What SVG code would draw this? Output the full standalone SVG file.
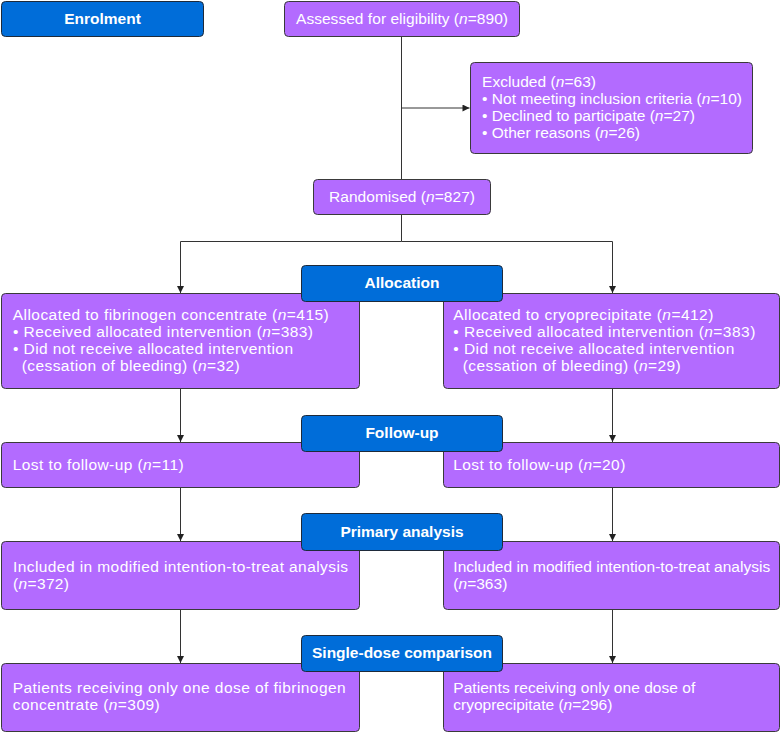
<svg xmlns="http://www.w3.org/2000/svg" width="781" height="733" viewBox="0 0 781 733">
<style>
.box{fill:#b36bff;stroke:#3a3a3a;stroke-width:1}
.lab{fill:#006dd9;stroke:#1e2a3a;stroke-width:1}
.t{font-family:"Liberation Sans",Arial,sans-serif;font-size:15.5px;fill:#ffffff}
.b{font-family:"Liberation Sans",Arial,sans-serif;font-size:15.5px;font-weight:bold;fill:#ffffff}
.i{font-style:italic}
.c{fill:none;stroke:#333333;stroke-width:1}
</style>
<defs>
<marker id="ah" viewBox="0 0 10 10" refX="10" refY="5" markerWidth="8" markerHeight="7" markerUnits="userSpaceOnUse" orient="auto">
<path d="M0,0 L10,5 L0,10 z" fill="#222222"/>
</marker>
</defs>
<g id="connectors">
<line class="c" x1="401.5" y1="37" x2="401.5" y2="179"/>
<line class="c" x1="401.5" y1="108" x2="469.5" y2="108" marker-end="url(#ah)"/>
<polyline class="c" points="401.5,215 401.5,241.5 180.5,241.5 180.5,293" marker-end="url(#ah)"/>
<polyline class="c" points="401.5,241.5 612.5,241.5 612.5,293" marker-end="url(#ah)"/>
<line class="c" x1="180.5" y1="389" x2="180.5" y2="442" marker-end="url(#ah)"/>
<line class="c" x1="612.5" y1="389" x2="612.5" y2="442" marker-end="url(#ah)"/>
<line class="c" x1="180.5" y1="488" x2="180.5" y2="541" marker-end="url(#ah)"/>
<line class="c" x1="612.5" y1="488" x2="612.5" y2="541" marker-end="url(#ah)"/>
<line class="c" x1="180.5" y1="610" x2="180.5" y2="663" marker-end="url(#ah)"/>
<line class="c" x1="612.5" y1="610" x2="612.5" y2="663" marker-end="url(#ah)"/>
</g>
<g id="enrolment">
<rect class="lab" x="1.5" y="1.5" width="202" height="35" rx="4"/>
<text class="b" x="102.5" y="23.5" text-anchor="middle">Enrolment</text>
</g>
<g id="assessed">
<rect class="box" x="284.5" y="1.5" width="235" height="35" rx="4"/>
<text class="t" x="296" y="23.5" textLength="212">Assessed for eligibility (<tspan class="i">n</tspan>=890)</text>
</g>
<g id="excluded">
<rect class="box" x="470.5" y="62.5" width="282" height="91" rx="4"/>
<text class="t" x="482" y="87" textLength="114">Excluded (<tspan class="i">n</tspan>=63)</text>
<text class="t" x="482" y="104" textLength="260">• Not meeting inclusion criteria (<tspan class="i">n</tspan>=10)</text>
<text class="t" x="482" y="121" textLength="213">• Declined to participate (<tspan class="i">n</tspan>=27)</text>
<text class="t" x="482" y="138" textLength="158">• Other reasons (<tspan class="i">n</tspan>=26)</text>
</g>
<g id="randomised">
<rect class="box" x="313.5" y="179.5" width="177" height="35" rx="4"/>
<text class="t" x="329" y="202" textLength="146">Randomised (<tspan class="i">n</tspan>=827)</text>
</g>
<g id="alloc-left">
<rect class="box" x="1.5" y="293.5" width="358" height="95" rx="4"/>
<text class="t" x="12.7" y="320" textLength="316">Allocated to fibrinogen concentrate (<tspan class="i">n</tspan>=415)</text>
<text class="t" x="13" y="337" textLength="300">• Received allocated intervention (<tspan class="i">n</tspan>=383)</text>
<text class="t" x="13" y="354" textLength="280">• Did not receive allocated intervention</text>
<text class="t" x="21.7" y="371" textLength="218">(cessation of bleeding) (<tspan class="i">n</tspan>=32)</text>
</g>
<g id="alloc-right">
<rect class="box" x="443.5" y="293.5" width="336" height="95" rx="4"/>
<text class="t" x="453.3" y="320" textLength="260">Allocated to cryoprecipitate (<tspan class="i">n</tspan>=412)</text>
<text class="t" x="453.3" y="337" textLength="302">• Received allocated intervention (<tspan class="i">n</tspan>=383)</text>
<text class="t" x="453.3" y="354" textLength="281">• Did not receive allocated intervention</text>
<text class="t" x="462.7" y="371" textLength="218">(cessation of bleeding) (<tspan class="i">n</tspan>=29)</text>
</g>
<g id="allocation">
<rect class="lab" x="301.5" y="265.5" width="201" height="36" rx="4"/>
<text class="b" x="402" y="288" text-anchor="middle">Allocation</text>
</g>
<g id="lost-left">
<rect class="box" x="1.5" y="442.5" width="358" height="45" rx="4"/>
<text class="t" x="12.7" y="470" textLength="171">Lost to follow-up (<tspan class="i">n</tspan>=11)</text>
</g>
<g id="lost-right">
<rect class="box" x="443.5" y="442.5" width="336" height="45" rx="4"/>
<text class="t" x="453.3" y="470" textLength="172">Lost to follow-up (<tspan class="i">n</tspan>=20)</text>
</g>
<g id="followup">
<rect class="lab" x="301.5" y="415.5" width="201" height="36" rx="4"/>
<text class="b" x="402" y="438" text-anchor="middle">Follow-up</text>
</g>
<g id="itt-left">
<rect class="box" x="1.5" y="541.5" width="358" height="68" rx="4"/>
<text class="t" x="13" y="572" textLength="335">Included in modified intention-to-treat analysis</text>
<text class="t" x="13" y="589" textLength="56">(<tspan class="i">n</tspan>=372)</text>
</g>
<g id="itt-right">
<rect class="box" x="443.5" y="541.5" width="336" height="68" rx="4"/>
<text class="t" x="453.3" y="572" textLength="317">Included in modified intention-to-treat analysis</text>
<text class="t" x="453.3" y="589" textLength="54">(<tspan class="i">n</tspan>=363)</text>
</g>
<g id="primary">
<rect class="lab" x="301.5" y="513.5" width="201" height="37" rx="4"/>
<text class="b" x="402" y="537" text-anchor="middle">Primary analysis</text>
</g>
<g id="single-left">
<rect class="box" x="1.5" y="663.5" width="358" height="68" rx="4"/>
<text class="t" x="12.7" y="693" textLength="333">Patients receiving only one dose of fibrinogen</text>
<text class="t" x="12.7" y="710" textLength="147">concentrate (<tspan class="i">n</tspan>=309)</text>
</g>
<g id="single-right">
<rect class="box" x="443.5" y="663.5" width="336" height="68" rx="4"/>
<text class="t" x="453.3" y="693" textLength="242">Patients receiving only one dose of</text>
<text class="t" x="453.3" y="710" textLength="159">cryoprecipitate (<tspan class="i">n</tspan>=296)</text>
</g>
<g id="single">
<rect class="lab" x="301.5" y="635.5" width="201" height="36" rx="4"/>
<text class="b" x="402" y="658" text-anchor="middle">Single-dose comparison</text>
</g>
</svg>
